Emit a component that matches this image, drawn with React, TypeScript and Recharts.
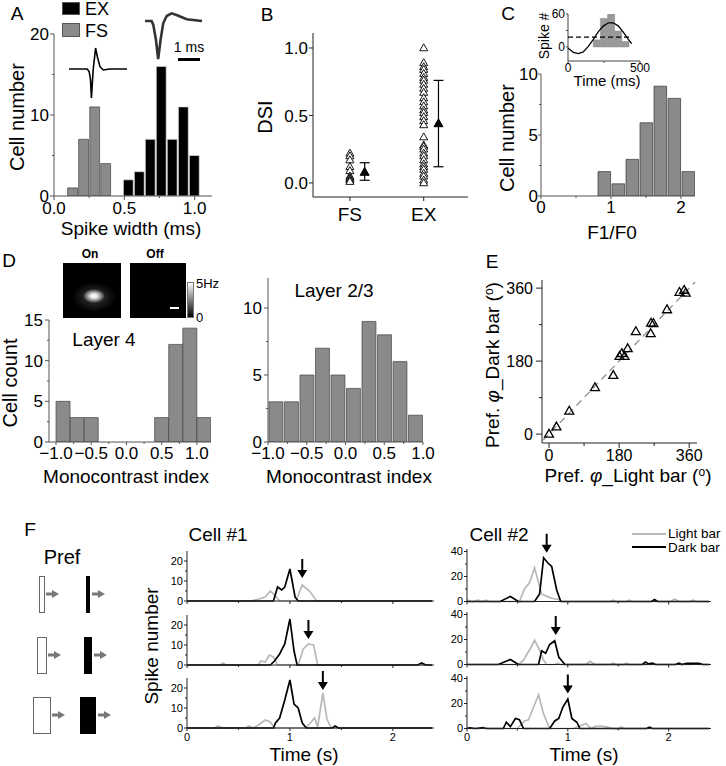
import React from 'react';
import { ComposedChart, Bar, Cell, Line, Scatter, XAxis, YAxis, ErrorBar, ReferenceLine } from 'recharts';

const FONT = '"Liberation Sans", Arial, Helvetica, sans-serif';

// ---------- Panel A: spike width histogram ----------
const widthBinsFS = [0.129, 0.207, 0.286, 0.364];
const widthCountsFS = [1, 7, 11, 4];
const widthBinsEX = [0.525, 0.603, 0.681, 0.759, 0.837, 0.916, 0.994];
const widthCountsEX = [2, 3, 7, 16, 7, 11, 5];
const waveTimeFS = [0, 0.83, 0.92, 0.98, 1.02, 1.1, 1.21, 1.29, 1.41, 1.56, 1.86, 2.64];
const waveVoltFS = [0, 0, -2.7, -11, -29, -1, 21, 12.3, 2.3, -1, 0, 0];
const waveTimeEX = [0, 0.3, 0.38, 0.5, 0.6, 0.71, 0.83, 0.99, 1.21, 1.44, 1.9, 2.6];
const waveVoltEX = [0, 0, -4, -19, -38, -19, -2.3, 5, 7.7, 6, 1.7, 0];

// ---------- Panel B: DSI ----------
const dsiGroups = ['FS', 'EX'];
const dsiGroupX = [1, 3];
const dsiFS = [0.22, 0.2, 0.17, 0.12, 0.09, 0.05, 0.04, 0.03, 0.02, 0.01];
const dsiEX = [1.0, 0.89, 0.86, 0.84, 0.81, 0.78, 0.76, 0.73, 0.7, 0.67, 0.63, 0.6, 0.57, 0.54, 0.52, 0.49, 0.46, 0.43, 0.34, 0.28, 0.27, 0.25, 0.22, 0.2, 0.17, 0.14, 0.12, 0.1, 0.07, 0.05, 0.02, 0.0];
const dsiMeanX = [1.4, 3.4];
const dsiMeans = [0.08, 0.44];
const dsiErrLow = [0.06, 0.32];
const dsiErrHigh = [0.07, 0.32];

// ---------- Panel C: F1/F0 ----------
const f1f0Bins = [0.9, 1.1, 1.3, 1.5, 1.7, 1.9, 2.1];
const f1f0Counts = [2, 1, 3, 6, 9, 8, 2];
const insetBins = [200, 250, 300, 350, 400];
const insetCounts = [13, 52, 67, 29, 10];
const insetFitT = [0, 37, 72, 106, 141, 176, 211, 245, 280, 315, 350, 384, 419, 442];
const insetFitV = [-2, -10, -12, -9, 1, 14, 28, 38, 44, 44, 38, 27, 14, 6];
const insetMean = 18;

// ---------- Panel D: monocontrast index ----------
const l4Bins = [-0.9, -0.7, -0.5, 0.5, 0.7, 0.9, 1.1];
const l4Counts = [5, 3, 3, 3, 12, 14, 3];
const l23Bins = [-0.9, -0.7, -0.5, -0.3, -0.1, 0.1, 0.3, 0.5, 0.7, 0.9];
const l23Counts = [3, 3, 5, 7, 5, 4, 9, 8, 6, 2];

// ---------- Panel E: preferred phase ----------
const phiLight = [0, 19, 52, 118, 165, 181, 187, 194, 202, 223, 261, 262, 268, 303, 335, 347, 351];
const phiDark = [0, 18, 57, 115, 145, 192, 199, 192, 211, 253, 248, 274, 273, 307, 350, 355, 348];

// ---------- Panel F: PSTHs [time s, spikes] ----------
const c1r1Light = [[0, 0], [0.62, 0], [0.7, 1], [0.76, 2], [0.81, 5], [0.85, 3], [0.9, 0], [1.06, 0], [1.12, 8], [1.19, 5], [1.26, 0], [2.38, 0]];
const c1r1Dark = [[0, 0], [0.84, 0], [0.88, 7], [0.92, 5.5], [0.95, 7], [1.0, 16], [1.05, 2], [1.08, 0], [2.38, 0]];
const c1r2Light = [[0, 0], [0.32, 0], [0.35, 1], [0.38, 0], [0.69, 0], [0.72, 2], [0.76, 1.5], [0.8, 5], [0.84, 4], [0.88, 0], [1.08, 0], [1.13, 8], [1.18, 10.5], [1.23, 10], [1.27, 0], [2.38, 0]];
const c1r2Dark = [[0, 0], [0.81, 0], [0.85, 2], [0.9, 5.5], [0.95, 10.5], [1.0, 23], [1.04, 7], [1.07, 0], [2.24, 0], [2.28, 1], [2.32, 0], [2.38, 0]];
const c1r3Light = [[0, 0], [0.27, 0], [0.3, 1], [0.35, 0], [0.57, 0], [0.6, 1], [0.64, 0], [0.68, 1], [0.76, 4], [0.81, 3], [0.85, 0], [1.15, 0], [1.19, 2], [1.24, 5], [1.27, 0.5], [1.32, 17.5], [1.36, 4.5], [1.4, 0], [2.38, 0]];
const c1r3Dark = [[0, 0], [0.84, 0], [0.86, 2.5], [0.9, 5], [0.95, 14], [1.0, 24], [1.04, 12], [1.08, 10], [1.12, 2.5], [1.16, 0], [1.41, 0], [1.44, 1], [1.47, 0], [2.38, 0]];
const c2r1Light = [[0, 0], [0.01, 1], [0.05, 0], [0.11, 1], [0.15, 0], [0.19, 1], [0.22, 0], [0.52, 0], [0.57, 10], [0.61, 14], [0.63, 17], [0.67, 27], [0.72, 12], [0.74, 6], [0.81, 3.5], [0.87, 2], [0.9, 2], [0.94, 0], [1.42, 0], [1.45, 1], [1.48, 0], [1.58, 0], [1.61, 1], [1.64, 0], [2.02, 0], [2.06, 2], [2.1, 0], [2.2, 0], [2.24, 1], [2.28, 0], [2.4, 0]];
const c2r1Dark = [[0, 0], [0.33, 0], [0.43, 4], [0.51, 0], [0.67, 0], [0.72, 6], [0.76, 35], [0.8, 31], [0.84, 28], [0.89, 9], [0.93, 0], [1.83, 0], [1.86, 1.5], [1.89, 0], [2.4, 0]];
const c2r2Light = [[0, 0], [0.51, 0], [0.56, 3.5], [0.6, 9], [0.63, 13], [0.67, 19.5], [0.72, 11.5], [0.76, 3.5], [0.79, 0], [0.87, 0], [0.9, 1], [0.93, 0], [1.18, 0], [1.22, 2.5], [1.27, 0], [1.42, 0], [1.45, 1], [1.48, 0], [1.55, 0], [1.58, 1], [1.61, 0], [2.08, 0], [2.11, 1], [2.14, 0], [2.24, 0], [2.27, 1], [2.3, 0], [2.4, 0]];
const c2r2Dark = [[0, 0], [0.31, 0], [0.34, 1], [0.43, 4], [0.51, 0], [0.71, 0], [0.74, 11], [0.78, 9], [0.82, 16], [0.87, 19], [0.91, 6], [0.97, 0], [1.74, 0], [1.77, 2], [1.8, 0.5], [1.84, 1], [1.87, 0], [2.07, 0], [2.1, 1], [2.13, 0], [2.18, 1], [2.3, 1], [2.34, 0], [2.4, 0]];
const c2r3Light = [[0, 1], [0.04, 0], [0.13, 0], [0.16, 1], [0.19, 0], [0.5, 0], [0.57, 6], [0.61, 7], [0.66, 17], [0.71, 27], [0.76, 11.5], [0.82, 0], [1.05, 0], [1.12, 2], [1.18, 4], [1.23, 0], [1.28, 2], [1.33, 2], [1.38, 1.3], [1.45, 0], [1.5, 0], [1.53, 1.3], [1.56, 0], [2.4, 0]];
const c2r3Dark = [[0, 0], [0.03, 0.5], [0.08, 0], [0.15, 0.5], [0.2, 0], [0.36, 0], [0.39, 5], [0.43, 1.5], [0.48, 8], [0.52, 7], [0.56, 0], [0.82, 0], [0.87, 6], [0.91, 8], [0.95, 17], [1.0, 23.5], [1.04, 8], [1.09, 5], [1.12, 0], [1.78, 0], [1.81, 1], [1.84, 0], [2.4, 0]];
const cell1Arrows = [[1.12, 11.5], [1.18, 13], [1.32, 19]];
const cell2Arrows = [[0.79, 39], [0.88, 23.6], [1.0, 28]];

// ---------- helpers ----------
type TickCfg = { major: number[]; fmt?: (v: number) => string; fs?: number; len?: number; minor?: number; gap?: number; color?: string; labels?: boolean };
const isMajor = (c: TickCfg, v: number) => c.major.some((m) => Math.abs(m - v) < 1e-6);
const yTick = (c: TickCfg) => (p: any) => {
  const v = Number(p.payload.value);
  const M = isMajor(c, v);
  const l = M ? c.len ?? 5 : c.minor ?? 3;
  return (
    <g>
      <line x1={p.x} x2={p.x - l} y1={p.y} y2={p.y} stroke={c.color ?? '#000'} strokeWidth={1} />
      {M && c.labels !== false && (
        <text x={p.x - l - (c.gap ?? 2)} y={p.y} dy="0.36em" textAnchor="end" fontSize={c.fs ?? 17} fill="#000">
          {c.fmt ? c.fmt(v) : String(v)}
        </text>
      )}
    </g>
  );
};
const xTick = (c: TickCfg) => (p: any) => {
  const v = Number(p.payload.value);
  const M = isMajor(c, v);
  const l = M ? c.len ?? 5 : c.minor ?? 3;
  return (
    <g>
      <line x1={p.x} x2={p.x} y1={p.y} y2={p.y + l} stroke={c.color ?? '#000'} strokeWidth={1} />
      {M && c.labels !== false && (
        <text x={p.x} y={p.y + l + (c.gap ?? 1)} dy="0.78em" textAnchor="middle" fontSize={c.fs ?? 17} fill="#000">
          {c.fmt ? c.fmt(v) : String(v)}
        </text>
      )}
    </g>
  );
};
const f1 = (v: number) => (v < 0 ? '\u2212' : '') + Math.abs(v).toFixed(1);

function Frame(props: { x0: number; y0: number; x1: number; y1: number; L?: number; B?: number; T?: number; R?: number; data?: any[]; bare?: boolean; children: React.ReactNode }) {
  const { x0, y0, x1, y1, L = 44, B = 30, T = 14, R = 14, data, bare, children } = props;
  const width = x1 - x0 + L + R;
  const height = y1 - y0 + T + B;
  const margin = bare ? { top: T, right: R, bottom: B, left: L } : { top: T, right: R, bottom: 0, left: 0 };
  return (
    <div style={{ position: 'absolute', left: x0 - L, top: y0 - T, width, height }}>
      <ComposedChart width={width} height={height} data={data} margin={margin}>
        {children}
      </ComposedChart>
    </div>
  );
}

function Txt(p: { x: number; y: number; children: React.ReactNode; size?: number; anchor?: 'start' | 'middle' | 'end'; rot?: number; weight?: number; color?: string }) {
  const tx = p.anchor === 'start' ? '0' : p.anchor === 'end' ? '-100%' : '-50%';
  return (
    <div
      style={{
        position: 'absolute', left: p.x, top: p.y,
        transform: `translate(${tx}, -50%)` + (p.rot ? ` rotate(${p.rot}deg)` : ''),
        fontSize: p.size ?? 19, fontWeight: p.weight ?? 400, whiteSpace: 'nowrap', lineHeight: 1, color: p.color ?? '#000',
      }}
    >
      {p.children}
    </div>
  );
}

const triShape = (size: number, fill: string, sw = 1) => (p: any) => {
  const { cx, cy } = p;
  if (cx == null || cy == null) return <g />;
  const h = size * 0.87;
  return <path d={`M${cx},${cy - h * 0.6} L${cx + size / 2},${cy + h * 0.4} L${cx - size / 2},${cy + h * 0.4} Z`} fill={fill} stroke="#000" strokeWidth={sw} />;
};
const arrowShape = (p: any) => {
  const { cx, cy } = p;
  if (cx == null || cy == null) return <g />;
  return (
    <g>
      <line x1={cx} x2={cx} y1={cy - 19} y2={cy - 7} stroke="#000" strokeWidth={2} />
      <path d={`M${cx - 5},${cy - 8} L${cx + 5},${cy - 8} L${cx},${cy} Z`} fill="#000" />
    </g>
  );
};
const toXY = (arr: number[][], k = 'v') => arr.map(([x, v]) => ({ x, [k]: v }));

// ---------- tables built from arrays ----------
const widthTable = [
  ...widthBinsFS.map((x, i) => ({ x, n: widthCountsFS[i], g: 'FS' })),
  ...widthBinsEX.map((x, i) => ({ x, n: widthCountsEX[i], g: 'EX' })),
];
const waveFS = waveTimeFS.map((x, i) => ({ x, v: waveVoltFS[i] }));
const waveEX = waveTimeEX.map((x, i) => ({ x, v: waveVoltEX[i] }));
const dsiPtsFS = dsiFS.map((y) => ({ x: dsiGroupX[0], y }));
const dsiPtsEX = dsiEX.map((y) => ({ x: dsiGroupX[1], y }));
const dsiMeanPts = dsiMeans.map((y, i) => ({ x: dsiMeanX[i], y, err: [dsiErrLow[i], dsiErrHigh[i]] }));
const f1f0Table = f1f0Bins.map((x, i) => ({ x, n: f1f0Counts[i] }));
const insetTable = insetBins.map((x, i) => ({ x, n: insetCounts[i] }));
const insetFit = insetFitT.map((x, i) => ({ x, v: insetFitV[i] }));
const l4Table = l4Bins.map((x, i) => ({ x, n: l4Counts[i] }));
const l23Table = l23Bins.map((x, i) => ({ x, n: l23Counts[i] }));
const phiPts = phiLight.map((x, i) => ({ x, y: phiDark[i] }));

const cellRows = [
  { light: c1r1Light, dark: c1r1Dark, arrow: cell1Arrows[0] },
  { light: c1r2Light, dark: c1r2Dark, arrow: cell1Arrows[1] },
  { light: c1r3Light, dark: c1r3Dark, arrow: cell1Arrows[2] },
];
const cell2Rows = [
  { light: c2r1Light, dark: c2r1Dark, arrow: cell2Arrows[0] },
  { light: c2r2Light, dark: c2r2Dark, arrow: cell2Arrows[1] },
  { light: c2r3Light, dark: c2r3Dark, arrow: cell2Arrows[2] },
];

const GRAYBAR = '#8a8a8a';
const AX = '#555';

function PsthRow(p: { x0: number; x1: number; y0: number; y1: number; xMax: number; yMax: number; yMajor: number[]; yMinor: number[]; row: any; labels: boolean }) {
  return (
    <Frame x0={p.x0} x1={p.x1} y0={p.y0} y1={p.y1} L={30} B={22} T={26} R={10}>
      <XAxis type="number" dataKey="x" domain={[0, p.xMax]} ticks={[0, 0.5, 1, 1.5, 2]} height={22} tickSize={0} tickMargin={0} tickLine={false} interval={0} axisLine={{ stroke: '#222' }} tick={xTick({ major: [0, 1, 2], fs: 11, len: 3, minor: 2, gap: 1, color: '#222', labels: p.labels })} />
      <YAxis type="number" domain={[0, p.yMax]} ticks={[...p.yMajor, ...p.yMinor]} width={30} tickSize={0} tickMargin={0} tickLine={false} interval={0} axisLine={{ stroke: '#222' }} tick={yTick({ major: p.yMajor, fs: 11, len: 3, minor: 2, gap: 1, color: '#222' })} />
      <Line data={toXY(p.row.light)} dataKey="v" stroke="#b8b8b8" strokeWidth={1.7} dot={false} isAnimationActive={false} />
      <Line data={toXY(p.row.dark)} dataKey="v" stroke="#000" strokeWidth={1.7} dot={false} isAnimationActive={false} />
      <Scatter data={[{ x: p.row.arrow[0], v: p.row.arrow[1] }]} dataKey="v" shape={arrowShape} isAnimationActive={false} />
    </Frame>
  );
}

export default function App() {
  const rows1 = [
    { y0: 551, y1: 601 },
    { y0: 614.5, y1: 664.5 },
    { y0: 678, y1: 728 },
  ];
  const rows2 = [
    { y0: 548.5, y1: 601 },
    { y0: 612, y1: 664.5 },
    { y0: 675.5, y1: 728 },
  ];
  return (
    <div style={{ position: 'absolute', left: 0, top: 0, width: 726, height: 766, background: '#fff', fontFamily: FONT, overflow: 'hidden' }}>
      {/* ===== A ===== */}
      <Frame x0={54} x1={212} y0={34} y1={196} L={44} B={34} data={widthTable}>
        <XAxis type="number" dataKey="x" domain={[0, 1.123]} ticks={[0, 0.25, 0.5, 0.75, 1]} height={34} tickSize={0} tickMargin={0} tickLine={false} interval={0} allowDataOverflow axisLine={{ stroke: AX }} tick={xTick({ major: [0, 0.5, 1], fmt: f1, fs: 17, len: 4, minor: 2, gap: 1, color: AX })} />
        <YAxis type="number" domain={[0, 20]} ticks={[0, 5, 10, 15, 20]} width={44} tickSize={0} tickMargin={0} tickLine={false} interval={0} allowDataOverflow axisLine={{ stroke: AX }} tick={yTick({ major: [0, 10, 20], fs: 17, len: 4, minor: 2, gap: 1, color: AX })} />
        <Bar dataKey="n" barSize={11} isAnimationActive={false}>
          {widthTable.map((d, i) => (
            <Cell key={i} fill={d.g === 'EX' ? '#000' : GRAYBAR} stroke={d.g === 'EX' ? '#ddd' : '#444'} strokeWidth={0.7} />
          ))}
        </Bar>
      </Frame>
      <Frame x0={69} x1={127} y0={48} y1={98} L={4} B={4} T={4} R={4} bare>
        <XAxis hide type="number" dataKey="x" domain={[0, 2.64]} />
        <YAxis hide type="number" domain={[-29, 21]} />
        <Line data={waveFS} dataKey="v" stroke="#000" strokeWidth={1.6} dot={false} isAnimationActive={false} />
      </Frame>
      <Frame x0={145} x1={202} y0={13} y1={59.5} L={4} B={4} T={4} R={4} bare>
        <XAxis hide type="number" dataKey="x" domain={[0, 2.6]} />
        <YAxis hide type="number" domain={[-38.5, 8]} />
        <Line data={waveEX} dataKey="v" stroke="#333" strokeWidth={2.6} dot={false} isAnimationActive={false} />
      </Frame>
      <div style={{ position: 'absolute', left: 178, top: 58, width: 22, height: 3, background: '#000' }} />
      <Txt x={189} y={47} size={14}>1 ms</Txt>
      <div style={{ position: 'absolute', left: 62, top: 2, width: 18, height: 13, background: '#000', border: '1px solid #555', boxSizing: 'border-box' }} />
      <div style={{ position: 'absolute', left: 62, top: 23, width: 18, height: 14, background: GRAYBAR, border: '1px solid #555', boxSizing: 'border-box' }} />
      <Txt x={85} y={9} size={18} anchor="start">EX</Txt>
      <Txt x={85} y={31} size={18} anchor="start">FS</Txt>
      <Txt x={17} y={13} size={19}>A</Txt>
      <Txt x={17} y={117} size={20} rot={-90}>Cell number</Txt>
      <Txt x={131} y={228} size={19}>Spike width (ms)</Txt>

      {/* ===== B ===== */}
      <Frame x0={313} x1={468} y0={33} y1={197} L={44} B={34}>
        <XAxis type="number" dataKey="x" domain={[0, 4.2]} ticks={dsiGroupX} height={34} tickSize={0} tickMargin={0} tickLine={false} interval={0} allowDataOverflow axisLine={{ stroke: '#222' }} tick={xTick({ major: dsiGroupX, fmt: (v) => dsiGroups[dsiGroupX.indexOf(v)], fs: 19, len: 4, gap: 5, color: '#222' })} />
        <YAxis type="number" dataKey="y" domain={[-0.104, 1.111]} ticks={[0, 0.5, 1]} width={44} tickSize={0} tickMargin={0} tickLine={false} interval={0} allowDataOverflow axisLine={{ stroke: '#222' }} tick={yTick({ major: [0, 0.5, 1], fmt: f1, fs: 17, len: 4, gap: 1, color: '#222' })} />
        <Scatter data={dsiPtsFS} dataKey="y" shape={triShape(8, '#fff', 0.9)} isAnimationActive={false} />
        <Scatter data={dsiPtsEX} dataKey="y" shape={triShape(8, '#fff', 0.9)} isAnimationActive={false} />
        <Scatter data={dsiMeanPts} dataKey="y" shape={triShape(9, '#000')} isAnimationActive={false}>
          <ErrorBar dataKey="err" direction="y" width={5} stroke="#000" strokeWidth={1.2} />
        </Scatter>
      </Frame>
      <Txt x={267} y={14} size={19}>B</Txt>
      <Txt x={265} y={117} size={20} rot={-90}>DSI</Txt>

      {/* ===== C ===== */}
      <Frame x0={541} x1={695} y0={74} y1={196} L={40} B={34} data={f1f0Table}>
        <XAxis type="number" dataKey="x" domain={[0, 2.2]} ticks={[0, 0.5, 1, 1.5, 2]} height={34} tickSize={0} tickMargin={0} tickLine={false} interval={0} allowDataOverflow axisLine={{ stroke: AX }} tick={xTick({ major: [0, 1, 2], fs: 17, len: 3, minor: 2, gap: 1, color: AX })} />
        <YAxis type="number" domain={[0, 10]} ticks={[0, 2.5, 5, 7.5, 10]} width={40} tickSize={0} tickMargin={0} tickLine={false} interval={0} allowDataOverflow axisLine={{ stroke: AX }} tick={yTick({ major: [0, 5, 10], fs: 17, len: 3, minor: 2, gap: 0, color: AX })} />
        <Bar dataKey="n" barSize={14} fill={GRAYBAR} stroke="#333" strokeWidth={0.7} isAnimationActive={false} />
      </Frame>
      <Frame x0={568} x1={640} y0={14} y1={61} L={26} B={18} T={9} R={16} data={insetTable}>
        <XAxis type="number" dataKey="x" domain={[0, 500]} ticks={[0, 250, 500]} height={18} tickSize={0} tickMargin={0} tickLine={false} interval={0} allowDataOverflow axisLine={{ stroke: '#444' }} tick={xTick({ major: [0, 500], fs: 12, len: 2, minor: 2, gap: 0, color: '#444' })} />
        <YAxis type="number" domain={[-25.5, 60]} ticks={[0, 30, 60]} width={26} tickSize={0} tickMargin={0} tickLine={false} interval={0} allowDataOverflow axisLine={{ stroke: '#444' }} tick={yTick({ major: [0, 60], fs: 12, len: 2, minor: 2, gap: 1, color: '#444' })} />
        <Bar dataKey="n" barSize={7} fill="#999" stroke="#8a8a8a" strokeWidth={0.5} isAnimationActive={false} />
      </Frame>
      <Frame x0={568} x1={640} y0={14} y1={61} L={4} B={4} T={4} R={4} bare>
        <XAxis hide type="number" dataKey="x" domain={[0, 500]} />
        <YAxis hide type="number" domain={[-25.5, 60]} />
        <Line data={insetFit} dataKey="v" stroke="#000" strokeWidth={1.3} dot={false} isAnimationActive={false} />
        <ReferenceLine segment={[{ x: 0, y: insetMean }, { x: 430, y: insetMean }]} stroke="#000" strokeWidth={1.3} strokeDasharray="5 3" ifOverflow="visible" />
      </Frame>
      <Txt x={508} y={13} size={19}>C</Txt>
      <Txt x={544} y={36} size={14} rot={-90}>Spike #</Txt>
      <Txt x={607} y={80} size={15}>Time (ms)</Txt>
      <Txt x={507} y={138} size={20} rot={-90}>Cell number</Txt>
      <Txt x={612} y={232} size={19}>F1/F0</Txt>

      {/* ===== D ===== */}
      <Frame x0={49} x1={211} y0={320} y1={442} L={44} B={32} data={l4Table}>
        <XAxis type="number" dataKey="x" domain={[-1.1, 1.2]} ticks={[-1, -0.75, -0.5, -0.25, 0, 0.25, 0.5, 0.75, 1]} height={32} tickSize={0} tickMargin={0} tickLine={false} interval={0} allowDataOverflow axisLine={{ stroke: AX }} tick={xTick({ major: [-1, -0.5, 0, 0.5, 1], fmt: f1, fs: 17, len: 3, minor: 2, gap: 1, color: AX })} />
        <YAxis type="number" domain={[0, 15]} ticks={[0, 2.5, 5, 7.5, 10, 12.5, 15]} width={44} tickSize={0} tickMargin={0} tickLine={false} interval={0} allowDataOverflow axisLine={{ stroke: AX }} tick={yTick({ major: [0, 5, 10, 15], fs: 17, len: 4, minor: 2, gap: 2, color: AX })} />
        <Bar dataKey="n" barSize={14} fill={GRAYBAR} stroke="#444" strokeWidth={0.7} isAnimationActive={false} />
      </Frame>
      <Frame x0={268} x1={423} y0={278} y1={442} L={40} B={32} data={l23Table}>
        <XAxis type="number" dataKey="x" domain={[-1, 1]} ticks={[-1, -0.75, -0.5, -0.25, 0, 0.25, 0.5, 0.75, 1]} height={32} tickSize={0} tickMargin={0} tickLine={false} interval={0} allowDataOverflow axisLine={{ stroke: AX }} tick={xTick({ major: [-1, -0.5, 0, 0.5, 1], fmt: f1, fs: 17, len: 3, minor: 2, gap: 1, color: AX })} />
        <YAxis type="number" domain={[0, 12.24]} ticks={[0, 2.5, 5, 7.5, 10]} width={40} tickSize={0} tickMargin={0} tickLine={false} interval={0} allowDataOverflow axisLine={{ stroke: AX }} tick={yTick({ major: [0, 5, 10], fs: 17, len: 4, minor: 2, gap: 2, color: AX })} />
        <Bar dataKey="n" barSize={15.5} fill={GRAYBAR} stroke="#444" strokeWidth={0.7} isAnimationActive={false} />
      </Frame>
      <div style={{ position: 'absolute', left: 63, top: 263, width: 58, height: 55, background: 'radial-gradient(ellipse 11px 7px at 31px 33px, #ffffff 0%, #e8e8e8 30%, #8a8a8a 65%, rgba(0,0,0,0) 100%), radial-gradient(ellipse 22px 15px at 31px 34px, rgba(110,110,110,0.55) 0%, rgba(0,0,0,0) 100%), #000' }} />
      <div style={{ position: 'absolute', left: 130, top: 263, width: 56, height: 55, background: '#000' }}>
        <div style={{ position: 'absolute', left: 40, top: 44, width: 9, height: 2, background: '#fff' }} />
      </div>
      <div style={{ position: 'absolute', left: 187, top: 282, width: 7, height: 36, background: 'linear-gradient(to bottom, #fff, #000)', border: '1px solid #777', boxSizing: 'border-box' }} />
      <Txt x={90} y={254} size={12} weight={700}>On</Txt>
      <Txt x={155} y={254} size={12} weight={700}>Off</Txt>
      <Txt x={196} y={283} size={13} anchor="start">5Hz</Txt>
      <Txt x={196} y={317} size={13} anchor="start">0</Txt>
      <Txt x={9} y={260} size={19}>D</Txt>
      <Txt x={104} y={339} size={19}>Layer 4</Txt>
      <Txt x={10} y={383} size={20} rot={-90}>Cell count</Txt>
      <Txt x={126} y={476} size={19}>Monocontrast index</Txt>
      <Txt x={334} y={290} size={19}>Layer 2/3</Txt>
      <Txt x={349} y={476} size={19}>Monocontrast index</Txt>

      {/* ===== E ===== */}
      <Frame x0={542} x1={697} y0={280} y1={443} L={44} B={32}>
        <XAxis type="number" dataKey="x" domain={[-18, 380]} ticks={[0, 90, 180, 270, 360]} height={32} tickSize={0} tickMargin={0} tickLine={false} interval={0} allowDataOverflow axisLine={{ stroke: '#222' }} tick={xTick({ major: [0, 180, 360], fs: 16, len: 5, minor: 3, gap: 1, color: '#222' })} />
        <YAxis type="number" dataKey="y" domain={[-22, 380]} ticks={[0, 90, 180, 270, 360]} width={44} tickSize={0} tickMargin={0} tickLine={false} interval={0} allowDataOverflow axisLine={{ stroke: '#222' }} tick={yTick({ major: [0, 180, 360], fs: 16, len: 6, minor: 3, gap: 3, color: '#222' })} />
        <ReferenceLine segment={[{ x: -15, y: -15 }, { x: 375, y: 375 }]} stroke="#888" strokeWidth={1.2} strokeDasharray="7 5" ifOverflow="visible" />
        <Scatter data={phiPts} dataKey="y" shape={triShape(9, 'none', 1.3)} isAnimationActive={false} />
      </Frame>
      <Txt x={492} y={261} size={19}>E</Txt>
      <Txt x={492} y={365} size={19} rot={-90}>
        Pref. <i>φ</i>_Dark bar (<span style={{ fontSize: 12, verticalAlign: '0.45em' }}>o</span>)
      </Txt>
      <Txt x={628} y={475} size={19}>
        Pref. <i>φ</i>_Light bar (<span style={{ fontSize: 12, verticalAlign: '0.45em' }}>o</span>)
      </Txt>

      {/* ===== F ===== */}
      <Txt x={30} y={529} size={19}>F</Txt>
      <Txt x={62} y={557} size={20}>Pref</Txt>
      <svg style={{ position: 'absolute', left: 0, top: 560 }} width={130} height={190}>
        {[
          { wx: 39, ww: 5, bx: 86, bw: 4, y: 16 },
          { wx: 37, ww: 9, bx: 84, bw: 8, y: 77 },
          { wx: 33, ww: 17, bx: 80, bw: 16, y: 137 },
        ].map((r, i) => (
          <g key={i}>
            <rect x={r.wx + 0.5} y={r.y + 0.5} width={r.ww} height={36} fill="#fff" stroke="#666" strokeWidth={1} />
            <line x1={r.wx + r.ww + 2} x2={r.wx + r.ww + 9} y1={r.y + 18} y2={r.y + 18} stroke="#777" strokeWidth={3} />
            <path d={`M${r.wx + r.ww + 8},${r.y + 14} L${r.wx + r.ww + 15},${r.y + 18} L${r.wx + r.ww + 8},${r.y + 22} Z`} fill="#777" />
            <rect x={r.bx} y={r.y} width={r.bw} height={37} fill="#000" />
            <line x1={r.bx + r.bw + 2} x2={r.bx + r.bw + 9} y1={r.y + 18} y2={r.y + 18} stroke="#777" strokeWidth={3} />
            <path d={`M${r.bx + r.bw + 8},${r.y + 14} L${r.bx + r.bw + 15},${r.y + 18} L${r.bx + r.bw + 8},${r.y + 22} Z`} fill="#777" />
          </g>
        ))}
      </svg>
      <Txt x={151} y={646} size={19} rot={-90}>Spike number</Txt>
      <Txt x={218} y={534} size={19}>Cell #1</Txt>
      <Txt x={499} y={534} size={19}>Cell #2</Txt>
      {cellRows.map((row, i) => (
        <PsthRow key={'c1' + i} x0={187} x1={434} y0={rows1[i].y0} y1={rows1[i].y1} xMax={2.4} yMax={25} yMajor={[0, 10, 20]} yMinor={[5, 15]} row={row} labels={i === 2} />
      ))}
      {cell2Rows.map((row, i) => (
        <PsthRow key={'c2' + i} x0={467} x1={711} y0={rows2[i].y0} y1={rows2[i].y1} xMax={2.42} yMax={42} yMajor={[0, 20, 40]} yMinor={[10, 30]} row={row} labels={i === 2} />
      ))}
      <Txt x={304} y={754} size={19}>Time (s)</Txt>
      <Txt x={584} y={754} size={19}>Time (s)</Txt>
      <div style={{ position: 'absolute', left: 632, top: 533, width: 34, height: 2, background: '#b8b8b8' }} />
      <div style={{ position: 'absolute', left: 632, top: 546, width: 34, height: 2, background: '#000' }} />
      <Txt x={668} y={534} size={13.5} anchor="start">Light bar</Txt>
      <Txt x={668} y={548} size={13.5} anchor="start">Dark bar</Txt>
    </div>
  );
}
